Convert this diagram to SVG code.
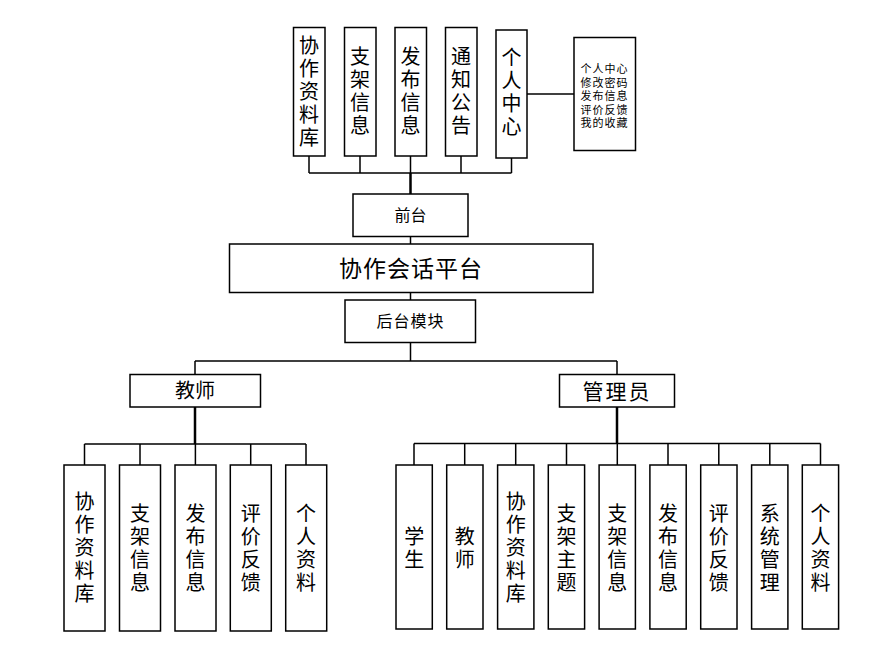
<svg xmlns="http://www.w3.org/2000/svg" width="886" height="671" viewBox="0 0 886 671">
<style>
rect.b{fill:#fff;stroke:#000;stroke-width:1.5}
text{font-family:"Noto Sans CJK SC","Liberation Sans",sans-serif;fill:#000;text-anchor:middle}
.v{font-size:20px;writing-mode:vertical-rl;letter-spacing:3px}
.s{font-family:"Liberation Sans","Noto Sans CJK SC",sans-serif;font-size:11px;letter-spacing:1px}
.c{fill:none;stroke:#000;stroke-width:1.5}
.t{fill:none;stroke:#000;stroke-width:2.5}
</style>
<rect width="886" height="671" fill="#fff"/>
<g id="connectors">
<path class="c" d="M309 156V173M360 156V173M410.5 156V173M461 156V173M511.5 158V173M309 173H511.5"/>
<path class="t" d="M410.5 173V194"/>
<path class="c" d="M527 94H574"/>
<path class="c" d="M410.5 237V244M410.5 293V300M410.5 343V361M195 361H617M195 361V374M617 361V374"/>
<path class="t" d="M195 407V444M617 407V443.5"/>
<path class="c" d="M84.5 444H306M84.5 444V465M140 444V465M195.4 444V465M250.7 444V465M306 444V465"/>
<path class="c" d="M414 443.5H820.5M414 443.5V465M464.7 443.5V465M515.7 443.5V465M566.5 443.5V465M617.3 443.5V465M668 443.5V465M718.8 443.5V465M769.8 443.5V465M820.5 443.5V465"/>
</g>
<g id="top1"><rect class="b" x="293.5" y="27.5" width="31.5" height="128.5"/><text class="v" x="309" y="93">协作资料库</text></g>
<g id="top2"><rect class="b" x="344.5" y="27.5" width="31.5" height="128.5"/><text class="v" x="360" y="92">支架信息</text></g>
<g id="top3"><rect class="b" x="395" y="27.5" width="31.5" height="128.5"/><text class="v" x="410.5" y="92">发布信息</text></g>
<g id="top4"><rect class="b" x="445.5" y="27.5" width="31.5" height="128.5"/><text class="v" x="461" y="92">通知公告</text></g>
<g id="top5"><rect class="b" x="496" y="30" width="31" height="128"/><text class="v" x="511.5" y="93">个人中心</text></g>
<g id="side"><rect class="b" x="574" y="37.5" width="61.5" height="113"/><text class="s" x="604.5" y="73"><tspan x="604.5" dy="0">个人中心</tspan><tspan x="604.5" dy="13.5">修改密码</tspan><tspan x="604.5" dy="13.5">发布信息</tspan><tspan x="604.5" dy="13.5">评价反馈</tspan><tspan x="604.5" dy="13.5">我的收藏</tspan></text></g>
<g id="qiantai"><rect class="b" x="353" y="194" width="115" height="42.5"/><text x="410.5" y="221" font-size="16">前台</text></g>
<g id="platform"><rect class="b" x="229.5" y="244" width="363.5" height="48.5"/><text x="411" y="277" font-size="23" letter-spacing="1">协作会话平台</text></g>
<g id="houtai"><rect class="b" x="345" y="300" width="130.5" height="42.5"/><text x="410.5" y="327" font-size="16" letter-spacing="1">后台模块</text></g>
<g id="teacher"><rect class="b" x="130" y="374.5" width="130.5" height="32.5"/><text x="195" y="398" font-size="20">教师</text></g>
<g id="admin"><rect class="b" x="559.5" y="374.5" width="115" height="32.5"/><text x="617" y="399" font-size="21" letter-spacing="2">管理员</text></g>
<g id="t1"><rect class="b" x="64" y="465" width="41" height="166"/><text class="v" x="84.5" y="549">协作资料库</text></g>
<g id="t2"><rect class="b" x="119.5" y="465" width="41" height="166"/><text class="v" x="140" y="549">支架信息</text></g>
<g id="t3"><rect class="b" x="175" y="465" width="41" height="166"/><text class="v" x="195.4" y="549">发布信息</text></g>
<g id="t4"><rect class="b" x="230.3" y="465" width="41" height="166"/><text class="v" x="250.7" y="549">评价反馈</text></g>
<g id="t5"><rect class="b" x="285.7" y="465" width="41" height="166"/><text class="v" x="306" y="549">个人资料</text></g>
<g id="a1"><rect class="b" x="396" y="465" width="36.3" height="164"/><text class="v" x="414.2" y="549">学生</text></g>
<g id="a2"><rect class="b" x="446.7" y="465" width="36.3" height="164"/><text class="v" x="464.8" y="549">教师</text></g>
<g id="a3"><rect class="b" x="497.6" y="465" width="36.3" height="164"/><text class="v" x="515.7" y="549">协作资料库</text></g>
<g id="a4"><rect class="b" x="548.3" y="465" width="36.3" height="164"/><text class="v" x="566.5" y="549">支架主题</text></g>
<g id="a5"><rect class="b" x="599.1" y="465" width="36.3" height="164"/><text class="v" x="617.3" y="549">支架信息</text></g>
<g id="a6"><rect class="b" x="649.9" y="465" width="36.3" height="164"/><text class="v" x="668" y="549">发布信息</text></g>
<g id="a7"><rect class="b" x="700.7" y="465" width="36.3" height="164"/><text class="v" x="718.8" y="549">评价反馈</text></g>
<g id="a8"><rect class="b" x="751.6" y="465" width="36.3" height="164"/><text class="v" x="769.8" y="549">系统管理</text></g>
<g id="a9"><rect class="b" x="802.3" y="465" width="36.3" height="164"/><text class="v" x="820.5" y="549">个人资料</text></g>
</svg>
